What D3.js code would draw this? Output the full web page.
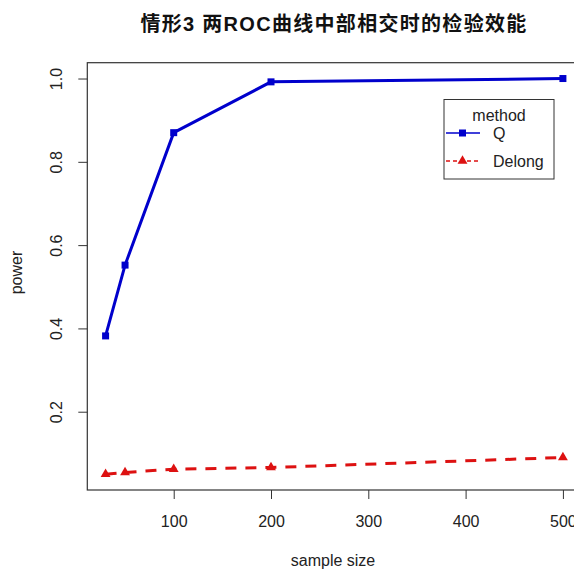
<!DOCTYPE html>
<html>
<head>
<meta charset="utf-8">
<script src="https://cdn.jsdelivr.net/npm/d3@7"></script>
<style>
  html, body { margin: 0; padding: 0; background: #fff; }
  svg { display: block; }
  text { font-family: "Liberation Sans", Arial, "Noto Sans CJK SC", sans-serif; fill: #222; }
</style>
</head>
<body>
<svg id="chart" width="574" height="571"></svg>
<script>
// Sample sizes and estimated power for each method
const sampleSizes = [30, 50, 100, 200, 500];
const powerQ = [0.382, 0.552, 0.870, 0.992, 1.000];
const powerDelong = [0.050, 0.054, 0.062, 0.066, 0.090];
const xTicks = [100, 200, 300, 400, 500];
const yTicks = [0.2, 0.4, 0.6, 0.8, 1.0];
const methods = ["Q", "Delong"];
const titleText = "情形3 两ROC曲线中部相交时的检验效能";

const svg = d3.select("#chart");

const plotLeft = 87.3, plotRight = 581.2, plotTop = 62.7, plotBottom = 490;
const x = d3.scaleLinear().domain([11.2, 518.8]).range([plotLeft, plotRight]);
const y = d3.scaleLinear().domain([0.012, 1.038]).range([plotBottom, plotTop]);

const blue = "#0000cc", red = "#dd1111";
const fs = "16px";

// Title
svg.append("text")
  .attr("x", 334).attr("y", 31)
  .attr("text-anchor", "middle")
  .style("font-size", "20px").style("font-weight", "bold")
  .style("letter-spacing", "1.3px")
  .style("font-family", "\"Liberation Sans\", \"Noto Sans CJK SC\", sans-serif")
  .style("fill", "#111")
  .text(titleText);

// Plot frame
svg.append("rect")
  .attr("x", plotLeft).attr("y", plotTop)
  .attr("width", plotRight - plotLeft).attr("height", plotBottom - plotTop)
  .attr("fill", "none").attr("stroke", "#333").attr("stroke-width", 1.2);

// X axis
const xAxis = svg.append("g")
  .attr("transform", `translate(0,${plotBottom})`)
  .call(d3.axisBottom(x).tickValues(xTicks).tickSize(9).tickFormat(d3.format("d")));
xAxis.select(".domain").remove();
xAxis.selectAll("line").attr("stroke", "#333");
xAxis.selectAll("text")
  .attr("y", 37).attr("dy", null)
  .style("font-size", fs).style("fill", "#222")
  .style("font-family", "\"Liberation Sans\", Arial, sans-serif");

// Y axis with rotated labels
const yAxis = svg.append("g")
  .attr("transform", `translate(${plotLeft},0)`)
  .call(d3.axisLeft(y).tickValues(yTicks).tickSize(9).tickFormat(d3.format(".1f")));
yAxis.select(".domain").remove();
yAxis.selectAll("line").attr("stroke", "#333");
yAxis.selectAll("text")
  .attr("x", null).attr("dy", null)
  .attr("text-anchor", "middle")
  .attr("transform", "translate(-25.3,0) rotate(-90)")
  .style("font-size", fs).style("fill", "#222")
  .style("font-family", "\"Liberation Sans\", Arial, sans-serif");

// Axis titles
svg.append("text")
  .attr("x", 333).attr("y", 566)
  .attr("text-anchor", "middle").style("font-size", fs)
  .text("sample size");
svg.append("text")
  .attr("transform", "translate(22,272.5) rotate(-90)")
  .attr("text-anchor", "middle").style("font-size", fs)
  .text("power");

const plot = svg.append("g");
const line = d3.line().x(d => x(d[0])).y(d => y(d[1]));

const dataQ = sampleSizes.map((s, i) => [s, powerQ[i]]);
const dataD = sampleSizes.map((s, i) => [s, powerDelong[i]]);

// Q series: solid line with squares
plot.append("path").datum(dataQ)
  .attr("d", line).attr("fill", "none")
  .attr("stroke", blue).attr("stroke-width", 3);
plot.selectAll(".sq").data(dataQ).enter().append("rect")
  .attr("x", d => x(d[0]) - 3.5).attr("y", d => y(d[1]) - 3.5)
  .attr("width", 7).attr("height", 7).attr("fill", blue);

// Delong series: dashed line with triangles
plot.append("path").datum(dataD)
  .attr("d", line).attr("fill", "none")
  .attr("stroke", red).attr("stroke-width", 3)
  .attr("stroke-dasharray", "11,9");
const tri = d3.symbol().type(d3.symbolTriangle).size(42);
plot.selectAll(".tri").data(dataD).enter().append("path")
  .attr("d", tri)
  .attr("transform", d => `translate(${x(d[0])},${y(d[1])})`)
  .attr("fill", red);

// Legend
const lg = svg.append("g");
lg.append("rect").attr("x", 444).attr("y", 99.5).attr("width", 110).attr("height", 79.5)
  .attr("fill", "#fff").attr("stroke", "#333").attr("stroke-width", 1);
lg.append("text").attr("x", 499).attr("y", 121)
  .attr("text-anchor", "middle").style("font-size", fs).text("method");
const rowY = [133, 161];
const colors = [blue, red];
methods.forEach((m, i) => {
  lg.append("line")
    .attr("x1", 446).attr("x2", 480).attr("y1", rowY[i]).attr("y2", rowY[i])
    .attr("stroke", colors[i]).attr("stroke-width", 1.6)
    .attr("stroke-dasharray", i === 1 ? "4,3" : null);
  if (i === 0) {
    lg.append("rect").attr("x", 459).attr("y", rowY[i] - 3.5)
      .attr("width", 7).attr("height", 7).attr("fill", blue);
  } else {
    lg.append("path").attr("d", tri)
      .attr("transform", `translate(462.5,${rowY[i]})`).attr("fill", red);
  }
  lg.append("text").attr("x", 493).attr("y", rowY[i] + 5.5)
    .style("font-size", fs).text(m);
});
</script>
</body>
</html>
